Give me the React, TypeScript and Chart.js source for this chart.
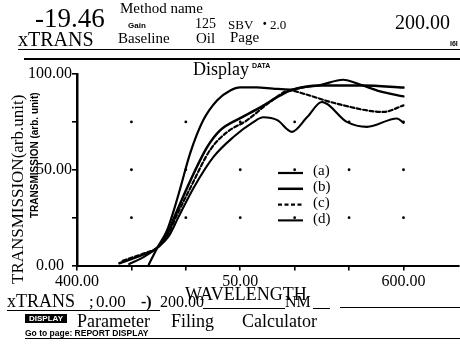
import React, { useEffect, useRef } from "react";
import { Chart, registerables } from "chart.js";

Chart.register(...registerables);

// ---------- data ----------
const seriesLabels = ["(a)", "(b)", "(c)", "(d)"];

const waveA = [444, 449.2, 455, 459, 463.3, 469.4, 477.3, 485.9, 493.9, 500, 510, 520, 530.6, 538.6, 549, 563, 573.4, 585.7, 600];
const transA = [0.5, 9.3, 18, 28, 40.5, 58.8, 75.8, 86.3, 91.4, 93, 93, 92.4, 91.9, 93, 94.2, 97, 94.5, 90.9, 88.3];

const waveB = [426, 440, 449.2, 455, 460, 467.4, 479.8, 487.8, 500, 512.3, 524.5, 530.6, 549, 575.3, 600];
const transB = [1.2, 5.5, 9.3, 16, 26, 40.5, 61.9, 70.7, 77, 82.6, 88.8, 91.4, 94, 94, 92.9];

const waveC = [428, 440, 449.2, 455, 461, 469.4, 481.6, 492, 504.3, 518.2, 530.6, 538.8, 559.2, 587.8, 600];
const transC = [2.5, 6, 9.3, 15, 26, 40.5, 60.4, 69.7, 75.9, 85.4, 91.4, 89.7, 84.5, 80.2, 83.6];

const waveD = [432, 441, 449.2, 456, 462, 471.4, 483.6, 495.8, 508, 514.1, 522.7, 531.7, 541, 550, 565.3, 577.6, 596, 600];
const transD = [0.8, 4.5, 9.3, 15, 25, 40.5, 56.7, 67.1, 74.9, 77.4, 75.9, 69.8, 77.5, 85.4, 75, 72.4, 76.8, 74.5];

const xTickValues = [400, 433.33, 466.67, 500, 533.33, 566.67, 600];
const xTickLabels = ["400.00", "", "", "50.00", "", "", "600.00"];
const yTickValues = [0, 25, 50, 75, 100];
const yTickLabels = ["0.00  ", "", "50.00", "", "100.00"];
const gridDotLevels = [25, 50, 75];

// ---------- styles ----------
const serif = '"Liberation Serif", "Times New Roman", serif';
const sans = '"Liberation Sans", Arial, sans-serif';

const gridDots = {
  id: "gridDots",
  beforeDatasetsDraw(chart: any) {
    const { ctx, scales } = chart;
    const x = scales.x;
    const y = scales.y;
    ctx.save();
    ctx.fillStyle = "#000";
    for (const xv of xTickValues.slice(1)) {
      for (const yv of gridDotLevels) {
        ctx.beginPath();
        ctx.arc(x.getPixelForValue(xv), y.getPixelForValue(yv), 1.4, 0, Math.PI * 2);
        ctx.fill();
      }
    }
    ctx.restore();
  },
};

const legendBox = {
  id: "legendBox",
  afterDatasetsDraw(chart: any) {
    const { ctx, chartArea } = chart;
    const left = chartArea.left + 201;
    const top = chartArea.top + 97.5;
    chart.data.datasets.forEach((ds: any, i: number) => {
      const yy = top + i * 15.8;
      ctx.save();
      ctx.strokeStyle = "#000";
      ctx.lineWidth = ds.borderWidth;
      ctx.setLineDash(ds.borderDash || []);
      ctx.beginPath();
      ctx.moveTo(left, yy + 1.5);
      ctx.lineTo(left + 25, yy + 1.5);
      ctx.stroke();
      ctx.setLineDash([]);
      ctx.font = `15px ${serif}`;
      ctx.textBaseline = "middle";
      ctx.fillStyle = "#000";
      ctx.fillText(ds.label, left + 35, yy);
      ctx.restore();
    });
  },
};

function T(props: {
  x: number;
  base: number;
  size: number;
  family?: string;
  bold?: boolean;
  children: any;
  style?: any;
}) {
  const { x, base, size, family = serif, bold = false, children, style } = props;
  return (
    <div
      style={{
        position: "absolute",
        left: x,
        top: base - 0.84 * size,
        fontSize: size,
        lineHeight: `${size}px`,
        fontFamily: family,
        fontWeight: bold ? 700 : 400,
        whiteSpace: "pre",
        color: "#000",
        ...style,
      }}
    >
      {children}
    </div>
  );
}

function Line(props: { x1: number; x2: number; y: number; w?: number; dashed?: boolean }) {
  const { x1, x2, y, w = 1, dashed = false } = props;
  return (
    <div
      style={{
        position: "absolute",
        left: x1,
        top: y,
        width: x2 - x1,
        height: 0,
        borderTop: `${w}px ${dashed ? "dashed" : "solid"} #000`,
      }}
    />
  );
}

export default function App() {
  const ref = useRef<HTMLCanvasElement | null>(null);

  useEffect(() => {
    if (!ref.current) return;
    const mk = (w: number[], t: number[]) => w.map((v, i) => ({ x: v, y: t[i] }));
    const chart = new Chart(ref.current, {
      type: "line",
      data: {
        datasets: [
          { label: seriesLabels[0], data: mk(waveA, transA), borderColor: "#000", borderWidth: 2.2, borderDash: [] },
          { label: seriesLabels[1], data: mk(waveB, transB), borderColor: "#000", borderWidth: 2.5, borderDash: [] },
          { label: seriesLabels[2], data: mk(waveC, transC), borderColor: "#000", borderWidth: 2.2, borderDash: [4, 2.5] },
          { label: seriesLabels[3], data: mk(waveD, transD), borderColor: "#000", borderWidth: 2.1, borderDash: [] },
        ] as any,
      },
      options: {
        animation: false,
        responsive: false,
        devicePixelRatio: 1,
        layout: { padding: { top: 74, right: 1, left: 0, bottom: 0 } },
        elements: {
          point: { radius: 0 },
          line: { cubicInterpolationMode: "monotone", fill: false, borderJoinStyle: "round", borderCapStyle: "round" },
        },
        plugins: {
          legend: { display: false },
          title: { display: false },
          tooltip: { enabled: false },
        },
        scales: {
          x: {
            type: "linear",
            min: 400,
            max: 634,
            afterBuildTicks: (s: any) => {
              s.ticks = xTickValues.map((v) => ({ value: v }));
            },
            afterFit: (s: any) => {
              s.height = 78.5;
            },
            border: { color: "#000", width: 2 },
            grid: { drawOnChartArea: false, drawTicks: true, tickLength: 5, color: "#000", lineWidth: 1.6 },
            ticks: {
              autoSkip: false,
              maxRotation: 0,
              padding: 2,
              color: "#000",
              font: { family: serif, size: 16 },
              callback: (v: any) => {
                const i = xTickValues.findIndex((t) => Math.abs(t - v) < 0.01);
                return i >= 0 ? xTickLabels[i] : "";
              },
            },
          },
          y: {
            type: "linear",
            min: 0,
            max: 100,
            afterBuildTicks: (s: any) => {
              s.ticks = yTickValues.map((v) => ({ value: v }));
            },
            afterFit: (s: any) => {
              s.width = 77;
            },
            border: { color: "#000", width: 2.5 },
            grid: { drawOnChartArea: false, drawTicks: true, tickLength: 5, color: "#000", lineWidth: 1.6 },
            ticks: {
              autoSkip: false,
              padding: 0,
              color: "#000",
              font: { family: serif, size: 16 },
              callback: (v: any) => {
                const i = yTickValues.findIndex((t) => Math.abs(t - v) < 0.01);
                return i >= 0 ? yTickLabels[i] : "";
              },
            },
          },
        },
      } as any,
      plugins: [gridDots, legendBox],
    });
    return () => chart.destroy();
  }, []);

  return (
    <div
      style={{
        position: "fixed",
        left: 0,
        top: 0,
        width: 460,
        height: 344,
        overflow: "hidden",
        background: "#fff",
      }}
    >
      <canvas ref={ref} width={460} height={344} style={{ position: "absolute", left: 0, top: 0, width: 460, height: 344 }} />

      {/* header */}
      <T x={35} base={28} size={27}>-19.46</T>
      <T x={18} base={46} size={20}>xTRANS</T>
      <T x={120} base={14} size={15}>Method name</T>
      <T x={128} base={29} size={8} family={sans} bold>Gain</T>
      <T x={118} base={44} size={15}>Baseline</T>
      <T x={195} base={29} size={14}>125</T>
      <T x={196} base={44} size={15}>Oil</T>
      <T x={228} base={29} size={13}>SBV</T>
      <T x={263} base={27} size={10} family={sans} bold>•</T>
      <T x={270} base={29} size={13}>2.0</T>
      <T x={230} base={43} size={15}>Page</T>
      <T x={395} base={29} size={20}>200.00</T>
      <T x={450} base={46} size={7} family={sans} bold>I6I</T>
      <Line x1={18} x2={460} y={49} w={1} />
      <Line x1={24} x2={460} y={58} w={2} />

      {/* title */}
      <T x={193} base={75} size={18}>Display</T>
      <T x={252} base={68} size={7} family={sans} bold>DATA</T>

      {/* y titles */}
      <div
        style={{
          position: "absolute",
          left: 9,
          top: 284,
          transform: "rotate(-90deg)",
          transformOrigin: "left top",
          fontFamily: serif,
          fontSize: 17,
          lineHeight: "17px",
          whiteSpace: "pre",
          color: "#000",
        }}
      >
        TRANSMISSION(arb.unit)
      </div>
      <div
        style={{
          position: "absolute",
          left: 30,
          top: 218,
          transform: "rotate(-90deg)",
          transformOrigin: "left top",
          fontFamily: sans,
          fontWeight: 700,
          fontSize: 10,
          lineHeight: "10px",
          whiteSpace: "pre",
          color: "#000",
        }}
      >
        TRANSMISSION (arb. unit)
      </div>

      {/* x title */}
      <T x={185} base={300} size={18}>WAVELENGTH</T>

      {/* footer */}
      <T x={7} base={307} size={18}>xTRANS</T>
      <T x={89} base={307} size={17}>;</T>
      <T x={96} base={307} size={17}>0.00</T>
      <T x={141} base={307} size={16} bold>-)</T>
      <T x={160} base={307} size={16}>200.00</T>
      <Line x1={7} x2={160} y={310} w={1} />
      <Line x1={203} x2={285} y={308} w={1.5} />
      <T x={285} base={307} size={16}>NM</T>
      <Line x1={313} x2={330} y={308} w={1.5} />
      <Line x1={340} x2={460} y={307} w={1} />

      <div
        style={{
          position: "absolute",
          left: 25,
          top: 314,
          width: 42,
          height: 9,
          background: "#000",
          color: "#fff",
          fontFamily: sans,
          fontWeight: 700,
          fontSize: 8,
          lineHeight: "9px",
          textAlign: "center",
          whiteSpace: "pre",
        }}
      >
        DISPLAY
      </div>
      <T x={77} base={327} size={18}>Parameter</T>
      <T x={171} base={327} size={18}>Filing</T>
      <T x={242} base={327} size={18}>Calculator</T>
      <T x={25} base={336} size={8.5} family={sans} bold>Go to page: REPORT DISPLAY</T>
      <Line x1={25} x2={460} y={338} w={1} />
    </div>
  );
}
